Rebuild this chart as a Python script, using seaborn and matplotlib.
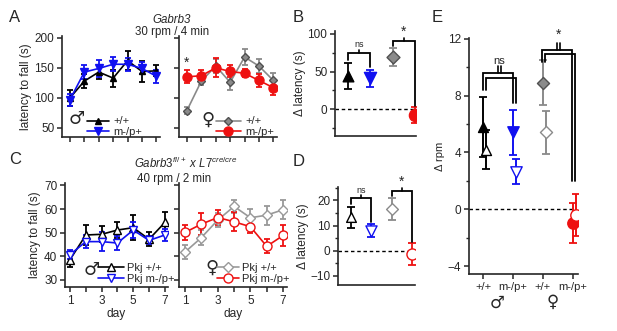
import numpy as np
import pandas as pd
import matplotlib
matplotlib.use("Agg")
import matplotlib.pyplot as plt
import seaborn as sns

sns.set_style("ticks")
plt.rcParams['font.family'] = ['Liberation Sans', 'DejaVu Sans']
plt.rcParams['mathtext.fontset'] = 'custom'
plt.rcParams['mathtext.it'] = 'Liberation Sans:italic'
plt.rcParams['mathtext.rm'] = 'Liberation Sans'
plt.rcParams['axes.linewidth'] = 1.2

days = [1, 2, 3, 4, 5, 6, 7]

# A: Gabrb3, 30 rpm / 4 min
a_male_wt = [100, 128, 143, 133, 162, 144, 145]
a_male_wt_err = [14, 11, 12, 14, 16, 18, 9]
a_male_mut = [97, 143, 149, 156, 156, 149, 136]
a_male_mut_err = [10, 12, 14, 12, 11, 10, 11]
a_fem_wt = [79, 128, 153, 126, 168, 153, 129]
a_fem_wt_err = [6, 6, 11, 13, 13, 12, 13]
a_fem_mut = [135, 137, 150, 144, 141, 129, 117]
a_fem_mut_err = [11, 9, 16, 10, 7, 11, 12]

# C: Gabrb3 fl/+ x L7 cre/cre, 40 rpm / 2 min
c_male_wt = [38.6, 49.0, 49.3, 51.1, 52.1, 47.2, 54.3]
c_male_wt_err = [3.2, 4.3, 3.3, 3.4, 5.2, 3.0, 4.3]
c_male_mut = [40.7, 46.2, 46.2, 45.6, 51.1, 46.7, 49.0]
c_male_mut_err = [1.9, 2.7, 4.0, 3.1, 3.5, 1.7, 2.5]
c_fem_wt = [41.8, 47.9, 55.3, 61.1, 56.3, 57.4, 59.7]
c_fem_wt_err = [2.8, 3.1, 2.8, 2.8, 3.8, 4.0, 4.0]
c_fem_mut = [50.1, 53.6, 56.4, 54.6, 52.5, 44.2, 48.8]
c_fem_mut_err = [3.1, 4.5, 3.1, 4.0, 2.8, 3.0, 4.5]

# B, D: delta latency; E: delta rpm (order: male +/+, male m-/p+, female +/+, female m-/p+)
b_delta = [44, 41, 69, -8]
b_err = [17, 11.5, 12, 10.5]
d_delta = [13.2, 8.0, 16.6, -1.3]
d_err = [4.0, 2.7, 4.5, 4.4]
e_gabrb3 = [5.8, 5.4, 8.9, -0.95]
e_gabrb3_err = [2.1, 1.55, 1.6, 1.4]
e_pkj = [4.2, 2.65, 5.4, -0.4]
e_pkj_err = [1.35, 0.9, 1.5, 1.5]
e_ticklabels = ['+/+', 'm-/p+', '+/+', 'm-/p+']

BLACK = '#000000'
BLUE = '#1010f0'
GRAY = '#8a8a8a'
DGRAY = '#505050'
RED = '#ee1111'
colors = [BLACK, BLUE, GRAY, RED]
markers = ['^', 'v', 'D', 'o']
msizes = [7, 8, 6, 8]

W, H = 617, 331
fig = plt.figure(figsize=(W / 100, H / 100), dpi=100)


def add_ax(x0, y0, x1, y1):
    return fig.add_axes([x0 / W, 1 - y1 / H, (x1 - x0) / W, (y1 - y0) / H])


def style(ax):
    sns.despine(ax=ax)
    ax.tick_params(direction='out', length=3.5, width=1.1, labelsize=8.5, pad=2)
    ax.tick_params(which='minor', direction='out', length=2.5, width=1.0)


def series(ax, x, y, err, color, marker, ms, fc, ec, label, lcolor=None):
    lc = lcolor or color
    ax.errorbar(x, y, yerr=err, fmt='none', ecolor=lc, elinewidth=1.3,
                capsize=2.5, capthick=1.3, zorder=2)
    sns.lineplot(x=x, y=y, ax=ax, color=lc, linewidth=1.2, marker=marker,
                 markersize=ms, markerfacecolor=fc, markeredgecolor=ec,
                 markeredgewidth=1.0, label=label, zorder=3)


def bracket(ax, x0, x1, y, y0, y1, lw=1.3):
    ax.plot([x0, x0, x1, x1], [y0, y, y, y1], color='k', lw=lw,
            clip_on=False, solid_joinstyle='miter')


# ---------------- A ----------------
axA1 = add_ax(62, 36, 160, 137)
axA2 = add_ax(179, 36, 277, 137)
series(axA1, days, a_male_wt, a_male_wt_err, BLACK, '^', 4.5, BLACK, BLACK, '+/+')
series(axA1, days, a_male_mut, a_male_mut_err, BLUE, 'v', 5.5, BLUE, BLUE, 'm-/p+')
series(axA2, days, a_fem_wt, a_fem_wt_err, GRAY, 'D', 4.5, GRAY, DGRAY, '+/+')
series(axA2, days, a_fem_mut, a_fem_mut_err, RED, 'o', 6.5, RED, RED, 'm-/p+')
for ax in (axA1, axA2):
    ax.set_ylim(35, 203)
    ax.set_xlim(0.45, 7.25)
    ax.set_xticks(days)
    ax.set_xticklabels([])
    ax.set_yticks([50, 100, 150, 200])
    ax.set_xlabel('')
    style(ax)
axA2.set_yticklabels([])
axA1.set_ylabel('latency to fall (s)', fontsize=8.6, labelpad=2)
axA1.legend(loc='lower left', bbox_to_anchor=(0.26, 0.0), frameon=False,
            fontsize=8, handlelength=1.9, handletextpad=0.4, labelspacing=0.05,
            borderpad=0, borderaxespad=0)
axA2.legend(loc='lower left', bbox_to_anchor=(0.38, 0.0), frameon=False,
            fontsize=8, handlelength=2.2, handletextpad=0.4, labelspacing=0.05,
            borderpad=0, borderaxespad=0)
axA1.text(0.15, 0.18, '\u2642', transform=axA1.transAxes, fontsize=13,
          ha='center', va='center', family=['DejaVu Sans'])
axA2.text(0.3, 0.17, '\u2640', transform=axA2.transAxes, fontsize=13,
          ha='center', va='center', family=['DejaVu Sans'])
axA2.text(days[0], 158, '*', fontsize=10, ha='center', va='center')
fig.text(172 / W, 1 - 20 / H, 'Gabrb3', style='italic', fontsize=8.3,
         ha='center', va='center')
fig.text(172 / W, 1 - 32 / H, '30 rpm / 4 min', fontsize=8.3,
         ha='center', va='center')

# ---------------- C ----------------
axC1 = add_ax(65, 183, 168, 287)
axC2 = add_ax(179, 183, 287, 287)
series(axC1, days, c_male_wt, c_male_wt_err, BLACK, '^', 5.5, 'white', BLACK, 'Pkj +/+')
series(axC1, days, c_male_mut, c_male_mut_err, BLUE, 'v', 6, 'white', BLUE, 'Pkj m-/p+')
series(axC2, days, c_fem_wt, c_fem_wt_err, '#999999', 'D', 5, 'white', '#999999', 'Pkj +/+')
series(axC2, days, c_fem_mut, c_fem_mut_err, RED, 'o', 6.5, 'white', RED, 'Pkj m-/p+')
axC1.set_xlim(0.68, 7.2)
axC2.set_xlim(0.63, 7.24)
for ax in (axC1, axC2):
    ax.set_ylim(27, 71)
    ax.set_xticks(days)
    ax.set_xticklabels(['1', '', '3', '', '5', '', '7'])
    ax.set_yticks([30, 40, 50, 60, 70])
    ax.set_xlabel('day', fontsize=8.6, labelpad=1)
    style(ax)
axC2.set_yticklabels([])
axC1.set_ylabel('latency to fall (s)', fontsize=8.6, labelpad=2)
axC1.legend(loc='lower left', bbox_to_anchor=(0.32, 0.03), frameon=False,
            fontsize=8, handlelength=2.3, handletextpad=0.3, labelspacing=0.05,
            borderpad=0, borderaxespad=0)
axC2.legend(loc='lower left', bbox_to_anchor=(0.35, 0.03), frameon=False,
            fontsize=8, handlelength=2.0, handletextpad=0.3, labelspacing=0.1,
            borderpad=0, borderaxespad=0)
axC1.text(0.26, 0.16, '\u2642', transform=axC1.transAxes, fontsize=13,
          ha='center', va='center', family=['DejaVu Sans'])
axC2.text(0.31, 0.19, '\u2640', transform=axC2.transAxes, fontsize=13,
          ha='center', va='center', family=['DejaVu Sans'])
fig.text(186 / W, 1 - 168 / H, r'$\mathit{Gabrb3}^{\mathit{fl/+}}\ \mathit{x}\ \mathit{L7}^{\mathit{cre/cre}}$',
         fontsize=8.3, ha='center', va='baseline')
fig.text(174 / W, 1 - 179 / H, '40 rpm / 2 min', fontsize=8.3,
         ha='center', va='center')


# ---------------- B, D ----------------
def delta_panel(ax, vals, errs, filled):
    xs = list(range(len(vals)))
    for i in xs:
        c = colors[i]
        ax.errorbar([i], [vals[i]], yerr=[errs[i]], fmt='none', ecolor=c,
                    elinewidth=1.3, capsize=3, capthick=1.3, zorder=2)
        fc = c if filled else 'white'
        ec = DGRAY if (filled and i == 2) else c
        sns.scatterplot(x=[i], y=[vals[i]], ax=ax, marker=markers[i],
                        s=msizes[i] ** 2 * (1.2 if filled else 1.0),
                        color=fc, edgecolor=ec, linewidth=1.0, zorder=3)
    ax.axhline(0, color='k', lw=1.0, ls=(0, (2.5, 2)), zorder=1)
    ax.set_xticks([])
    style(ax)


axB = add_ax(335, 31, 416, 136)
delta_panel(axB, b_delta, b_err, True)
axB.set_xlim(-0.58, 3.05)
axB.set_ylim(-36, 104)
axB.set_yticks([0, 50, 100])
axB.set_yticks([-25, 25, 75], minor=True)
axB.set_ylabel('\u0394 latency (s)', fontsize=8.6, labelpad=1)
bracket(axB, 0, 1, 75, 66, 56)
axB.plot([0.5, 0.5], [75, 79], color='k', lw=1.2)
axB.text(0.5, 80, 'ns', fontsize=6.5, ha='center', va='bottom')
bracket(axB, 2, 3, 91, 84, 4)
axB.plot([2.5, 2.5], [91, 95], color='k', lw=1.2)
axB.text(2.5, 94, '*', fontsize=10, ha='center', va='bottom')

axD = add_ax(338, 187, 415, 285)
delta_panel(axD, d_delta, d_err, False)
axD.set_xlim(-0.64, 3.15)
axD.set_ylim(-13.6, 25.3)
axD.set_yticks([-10, 0, 10, 20])
axD.set_yticks([-5, 5, 15, 25], minor=True)
axD.set_ylabel('\u0394 latency (s)', fontsize=8.6, labelpad=1)
bracket(axD, 0, 1, 21, 18.5, 11.5)
axD.plot([0.5, 0.5], [21, 22.3], color='k', lw=1.2)
axD.text(0.5, 22.3, 'ns', fontsize=6.5, ha='center', va='bottom')
bracket(axD, 2, 3, 23.7, 21.6, 3.6)
axD.plot([2.5, 2.5], [23.7, 25], color='k', lw=1.2)
axD.text(2.5, 24.6, '*', fontsize=10, ha='center', va='bottom')

# ---------------- E ----------------
axE = add_ax(469, 38, 578, 274)
off = 0.09
for i in range(4):
    c = colors[i]
    axE.errorbar([i], [e_gabrb3[i]], yerr=[e_gabrb3_err[i]], fmt='none',
                 ecolor=c, elinewidth=1.4, capsize=3, capthick=1.3, zorder=2)
    axE.errorbar([i + off], [e_pkj[i]], yerr=[e_pkj_err[i]], fmt='none',
                 ecolor=c, elinewidth=1.4, capsize=3, capthick=1.3, zorder=2)
    sns.scatterplot(x=[i], y=[e_gabrb3[i]], ax=axE, marker=markers[i],
                    s=msizes[i] ** 2 * 1.05, color=c,
                    edgecolor=DGRAY if i == 2 else c, linewidth=1.0, zorder=3)
    sns.scatterplot(x=[i + off], y=[e_pkj[i]], ax=axE, marker=markers[i],
                    s=msizes[i] ** 2 * 1.05, color='white', edgecolor=c,
                    linewidth=1.0, zorder=3)
axE.axhline(0, xmax=0.97, color='k', lw=1.0, ls=(0, (2.5, 2)), zorder=1)
axE.set_xlim(-0.47, 3.17)
axE.set_ylim(-4.56, 12.05)
axE.set_yticks([-4, 0, 4, 8, 12])
axE.set_yticks([-2, 2, 6, 10], minor=True)
axE.set_xticks(range(4))
axE.set_xticklabels(e_ticklabels, fontsize=8)
style(axE)
axE.tick_params(axis='x', labelsize=8, pad=2)
axE.set_ylabel('\u0394 rpm', fontsize=8, labelpad=2)
# double brackets
bracket(axE, 0, 1, 9.62, 8.4, 7.5)
bracket(axE, 0.11, 1.09, 9.22, 8.4, 7.5)
axE.plot([0.5, 0.5], [9.62, 10.1], color='k', lw=1.2)
axE.plot([0.61, 0.61], [9.62, 10.1], color='k', lw=1.2)
axE.text(0.55, 10.05, 'ns', fontsize=8, ha='center', va='bottom')
bracket(axE, 1.98, 2.98, 11.18, 10.35, 2.0)
bracket(axE, 2.06, 3.08, 10.95, 10.35, 2.0)
axE.plot([2.48, 2.48], [11.18, 11.72], color='k', lw=1.2, clip_on=False)
axE.plot([2.58, 2.58], [11.18, 11.72], color='k', lw=1.2, clip_on=False)
axE.text(2.53, 11.8, '*', fontsize=10, ha='center', va='bottom')
axE.text(0.47, -0.12, '\u2642', transform=axE.get_xaxis_transform(),
         fontsize=12, ha='center', va='center', family=['DejaVu Sans'])
axE.text(2.33, -0.12, '\u2640', transform=axE.get_xaxis_transform(),
         fontsize=12, ha='center', va='center', family=['DejaVu Sans'])

# panel letters
for lab, x, y in [('A', 9, 17), ('B', 293, 17), ('C', 9, 160), ('D', 293, 162), ('E', 432, 17)]:
    fig.text(x / W, 1 - y / H, lab, fontsize=12, ha='left', va='center')

fig.savefig('out.png', dpi=100)
